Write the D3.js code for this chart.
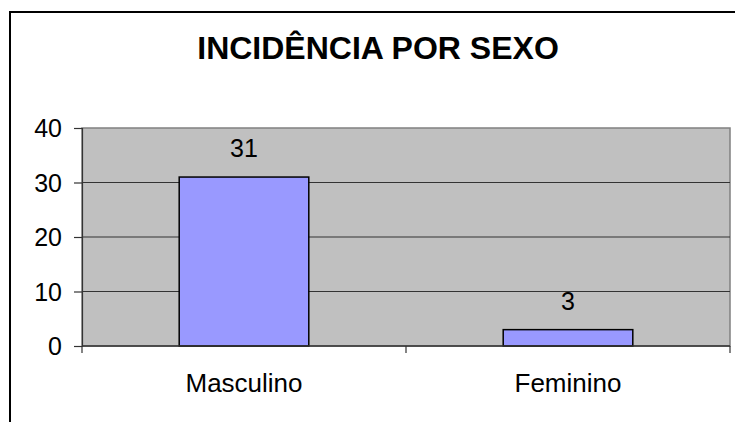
<!doctype html>
<html>
<head>
    <meta charset="utf-8">
    <style>
        body {
            margin: 0;
            background: #ffffff;
            font-family: "Liberation Sans", Arial, sans-serif;
        }
    </style>
    <script src="https://d3js.org/d3.v7.min.js"></script>
</head>
<body>
<div id="chart"></div>
<script>
    // data
    var categories = ["Masculino", "Feminino"];
    var values = [31, 3];
    var yTicks = [0, 10, 20, 30, 40];
    var title = "INCIDÊNCIA POR SEXO";

    var W = 735, H = 422;
    var plot = {left: 82, top: 128, right: 730, bottom: 346};

    var svg = d3.select("#chart")
        .append("svg")
        .attr("width", W)
        .attr("height", H);

    // outer chart border (runs off the right and bottom of the picture)
    svg.append("rect")
        .attr("x", 10).attr("y", 12)
        .attr("width", 760).attr("height", 440)
        .attr("fill", "#fff")
        .attr("stroke", "#000")
        .attr("stroke-width", 2);

    svg.append("text")
        .attr("x", 378)
        .attr("y", 59)
        .attr("text-anchor", "middle")
        .attr("font-size", "32px")
        .attr("font-weight", "bold")
        .attr("fill", "#000")
        .text(title);

    var x = d3.scaleBand()
        .domain(categories)
        .range([plot.left, plot.right])
        .paddingInner(0.6)
        .paddingOuter(0.3);

    var xOuter = d3.scaleBand()
        .domain(categories)
        .range([plot.left, plot.right]);

    var y = d3.scaleLinear()
        .domain([0, 40])
        .range([plot.bottom, plot.top]);

    // plot area background
    svg.append("rect")
        .attr("x", plot.left).attr("y", plot.top)
        .attr("width", plot.right - plot.left)
        .attr("height", plot.bottom - plot.top)
        .attr("fill", "#c0c0c0")
        .attr("stroke", "#808080")
        .attr("stroke-width", 1.5);

    // gridlines
    svg.append("g")
        .selectAll("line")
        .data(yTicks.filter(function(d) { return d > 0 && d < 40; }))
        .enter()
        .append("line")
        .attr("x1", plot.left).attr("x2", plot.right)
        .attr("y1", function(d) { return y(d); })
        .attr("y2", function(d) { return y(d); })
        .attr("stroke", "#333")
        .attr("stroke-width", 1.2);

    // bars
    svg.append("g")
        .selectAll("rect")
        .data(values)
        .enter()
        .append("rect")
        .attr("x", function(d, i) { return x(categories[i]); })
        .attr("y", function(d) { return y(d); })
        .attr("width", x.bandwidth())
        .attr("height", function(d) { return y(0) - y(d); })
        .attr("fill", "#9999ff")
        .attr("stroke", "#000")
        .attr("stroke-width", 1.5);

    // value labels
    svg.append("g")
        .selectAll("text")
        .data(values)
        .enter()
        .append("text")
        .attr("x", function(d, i) { return x(categories[i]) + x.bandwidth() / 2; })
        .attr("y", function(d) { return y(d) - 20; })
        .attr("text-anchor", "middle")
        .attr("font-size", "25px")
        .attr("fill", "#000")
        .text(function(d) { return d; });

    // y axis
    var yAxis = svg.append("g")
        .attr("transform", "translate(" + plot.left + ",0)")
        .call(d3.axisLeft(y).tickValues(yTicks).tickSize(8).tickPadding(12));
    yAxis.select(".domain").attr("stroke", "#333").attr("stroke-width", 1.2);
    yAxis.selectAll(".tick line").attr("stroke", "#333").attr("stroke-width", 1.2);
    yAxis.selectAll("text")
        .attr("font-size", "25px")
        .attr("font-family", "Liberation Sans, Arial, sans-serif")
        .attr("fill", "#000")
        .attr("dy", "0.34em");

    // x axis line and ticks at band edges
    svg.append("line")
        .attr("x1", plot.left).attr("x2", plot.right)
        .attr("y1", y(0)).attr("y2", y(0))
        .attr("stroke", "#333")
        .attr("stroke-width", 1.5);

    var edges = categories.map(function(c) { return xOuter(c); }).concat([plot.right]);
    svg.append("g")
        .selectAll("line")
        .data(edges)
        .enter()
        .append("line")
        .attr("x1", function(d) { return d; })
        .attr("x2", function(d) { return d; })
        .attr("y1", y(0))
        .attr("y2", y(0) + 7)
        .attr("stroke", "#333")
        .attr("stroke-width", 1.2);

    svg.append("g")
        .selectAll("text")
        .data(categories)
        .enter()
        .append("text")
        .attr("x", function(d) { return xOuter(d) + xOuter.bandwidth() / 2; })
        .attr("y", 392)
        .attr("text-anchor", "middle")
        .attr("font-size", "26px")
        .attr("fill", "#000")
        .text(function(d) { return d; });
</script>
</body>
</html>
